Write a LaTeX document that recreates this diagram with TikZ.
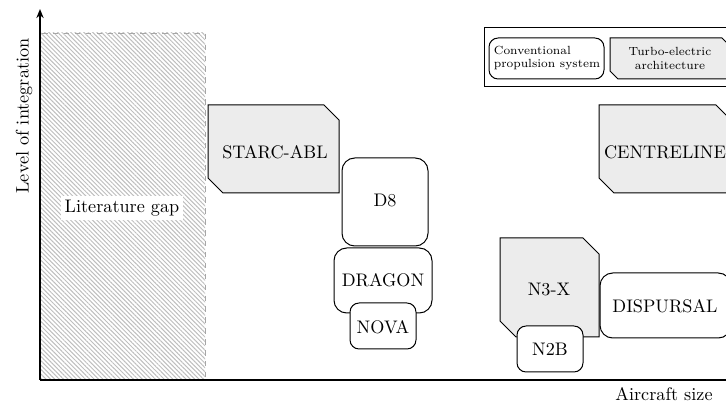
\documentclass[tikz,border=0pt]{standalone}
\usetikzlibrary{fit,patterns.meta,arrows.meta}
\definecolor{techgray}{RGB}{236,236,236}
\definecolor{hatchgray}{RGB}{190,190,190}
\tikzset{
  conv/.style={draw, rounded corners=7pt, inner sep=0pt, line width=0.55pt, fill=white},
  convsmall/.style={conv, rounded corners=5pt},
  turbo/.style={draw, fill=techgray, line width=0.55pt},
  axis/.style={line width=0.9pt, -{Stealth[length=5pt,width=4pt]}},
}
% chamfered box: x1 y1 x2 y2 chamfer (picture units)
\newcommand\mychambox[5]{%
  \draw[turbo] (#1,#2) -- ({#3-#5},#2) -- (#3,{#2+#5}) -- (#3,#4) -- ({#1+#5},#4) -- (#1,{#4-#5}) -- cycle;}
\begin{document}
\begin{tikzpicture}[x=0.55pt,y=-0.55pt]
\useasboundingbox (0,0) rectangle (726,403);
% literature gap
\path[pattern={Lines[angle=-45,distance=1.7pt,line width=0.55pt]}, pattern color=hatchgray]
  (40,33) rectangle (205,380);
\draw[gray!70, dashed, line width=0.5pt] (40,380) -- (40,33) -- (205,33) -- (205,380);
\node[fill=white, inner sep=2pt] (gap) at (122,208) {Literature gap};
% axes
\coordinate (o) at (40,380);
\coordinate (ytop) at (40,9);
\coordinate (xend) at (740,380);
\draw[axis] (o) -- (ytop);
\draw[axis] (o) -- (xend);
\node[rotate=90] (ylab) at (24,116) {Level of integration};
\node (xlab) at (664,394) {Aircraft size};
% nodes
\mychambox{208}{105}{339}{193}{15}
\node (starc) at (275,152) {STARC-ABL};
\coordinate (d1) at (342,158); \coordinate (d2) at (428,246);
\node[conv, fit=(d1)(d2)] (d8) {};
\node (d8t) at (385,200) {D8};
\coordinate (g1) at (334,248); \coordinate (g2) at (432,313);
\node[conv, fit=(g1)(g2)] (dragon) {};
\node (dragont) at (383,280) {DRAGON};
\coordinate (n1) at (350,303); \coordinate (n2) at (416,349);
\node[convsmall, fit=(n1)(n2)] (nova) {};
\node (novat) at (383,327) {NOVA};
\mychambox{599}{105}{731}{193}{15}
\node (centre) at (665,152) {CENTRELINE};
\mychambox{500}{238}{599}{337}{16}
\node (n3x) at (549,289) {N3-X};
\coordinate (b1) at (517,326); \coordinate (b2) at (583,372);
\node[convsmall, fit=(b1)(b2)] (n2b) {};
\node (n2bt) at (550,349) {N2B};
\coordinate (p1) at (600,273); \coordinate (p2) at (731,338);
\node[conv, fit=(p1)(p2)] (disp) {};
\node (dispt) at (665,306) {DISPURSAL};
% legend
\coordinate (l1) at (484,28); \coordinate (l2) at (745,87);
\node[draw, line width=0.55pt, inner sep=0pt, fit=(l1)(l2)] (legend) {};
\coordinate (lc1) at (489,38); \coordinate (lc2) at (604,79);
\node[convsmall, fit=(lc1)(lc2)] (legconv) {};
\node[font=\fontsize{6.5}{7.2}\selectfont, align=left, inner sep=0pt] (legconvt) at (547,58.5) {Conventional\\propulsion system};
\mychambox{610}{38}{730}{79}{8}
\node[font=\fontsize{6.5}{7.2}\selectfont, align=center, inner sep=0pt] (legturbo) at (670,58.5) {Turbo-electric\\architecture};
\end{tikzpicture}
\end{document}
